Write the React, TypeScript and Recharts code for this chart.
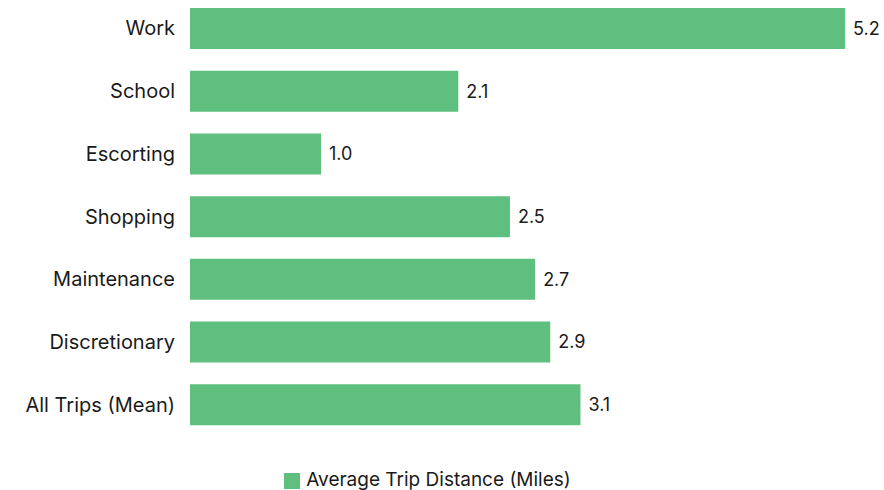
import { BarChart, Bar, XAxis, YAxis, Legend, LabelList } from 'recharts';

const categories = ['Work', 'School', 'Escorting', 'Shopping', 'Maintenance', 'Discretionary', 'All Trips (Mean)'];
const distances = [5.2, 2.13, 1.04, 2.54, 2.74, 2.86, 3.1];
const seriesName = 'Average Trip Distance (Miles)';

const data = categories.map((name, i) => ({ name, val: distances[i] }));

const App = () => {
    return (
        <div style={{ position: 'absolute', left: 0, top: 0, fontFamily: 'Inter, sans-serif' }}>
            <BarChart
                width={884}
                height={490}
                data={data}
                layout="vertical"
                margin={{ top: -3, right: 39, bottom: 31, left: 0 }}
                barSize={41}
            >
                <XAxis type="number" domain={[0, 'dataMax']} hide />
                <YAxis
                    type="category"
                    dataKey="name"
                    width={190}
                    axisLine={false}
                    tickLine={false}
                    tickSize={0}
                    tickMargin={15}
                    tick={{ fill: '#1a1a1a', fontSize: 20 }}
                />
                <Legend
                    verticalAlign="bottom"
                    iconType="square"
                    iconSize={16}
                    wrapperStyle={{ fontSize: 19, bottom: -1, paddingLeft: 10 }}
                    formatter={(v) => <span style={{ color: '#1a1a1a', marginLeft: 2 }}>{v}</span>}
                />
                <Bar dataKey="val" name={seriesName} fill="#5fbf7f" isAnimationActive={false}>
                    <LabelList
                        dataKey="val"
                        position="right"
                        offset={8}
                        formatter={(v: number) => v.toFixed(1)}
                        style={{ fill: '#1a1a1a', fontSize: 18 }}
                    />
                </Bar>
            </BarChart>
        </div>
    );
};

export default App;
